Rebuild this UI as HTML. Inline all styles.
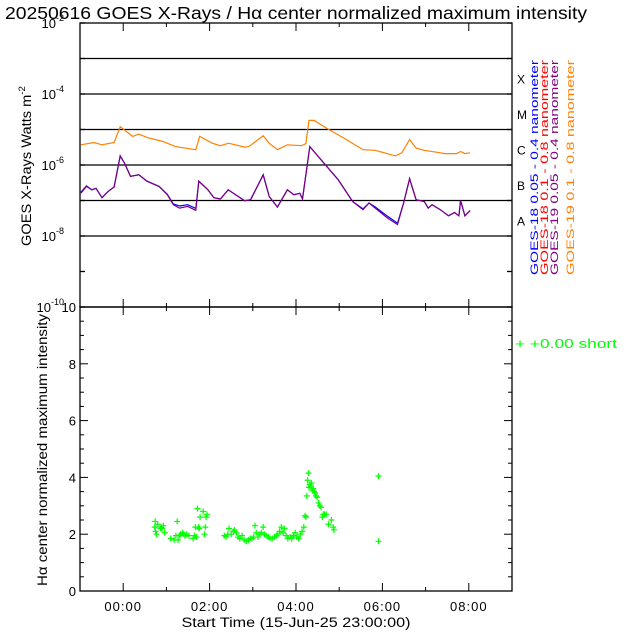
<!DOCTYPE html>
<html><head><meta charset="utf-8">
<style>
html,body{margin:0;padding:0;background:#fff;}
svg{display:block;font-family:"Liberation Sans",sans-serif;}
</style></head>
<body>
<svg id="chart" width="640" height="640" viewBox="0 0 640 640" xmlns="http://www.w3.org/2000/svg">
<text x="5" y="19" font-size="17.5" fill="#000" textLength="582" lengthAdjust="spacingAndGlyphs">20250616 GOES X-Rays / Hα center normalized maximum intensity</text>
<g id="topPanel"></g>
<g id="botPanel"></g>
</svg>
<script>
// ---- data ----
const xTickLabels = ["00:00","02:00","04:00","06:00","08:00"];
const xTickHours = [0,2,4,6,8];
const fluxTickExps = [-2,-4,-6,-8,-10];
const classLabels = ["X","M","C","B","A"];
const haTickLabels = [0,2,4,6,8,10];

const g19LongTimes = [-0.98,-0.68,-0.49,-0.21,-0.07,0.22,0.36,0.55,0.92,1.21,1.68,1.77,2.06,2.25,2.44,2.81,2.91,3.24,3.38,3.57,3.80,4.13,4.23,4.30,4.42,4.70,5.17,5.55,5.83,6.30,6.45,6.63,6.78,6.97,7.25,7.44,7.72,7.81,7.91,8.03];
const g19LongFlux = [3.7e-6,4.3e-6,3.7e-6,4.3e-6,1.2e-5,6.4e-6,7.4e-6,6.0e-6,4.6e-6,3.3e-6,2.7e-6,6.4e-6,4.1e-6,3.5e-6,4.1e-6,3.2e-6,3.3e-6,6.7e-6,4.1e-6,2.7e-6,3.7e-6,3.5e-6,4.0e-6,1.8e-5,1.8e-5,1.1e-5,5.2e-6,2.7e-6,2.6e-6,1.8e-6,2.2e-6,5.2e-6,3.0e-6,2.6e-6,2.3e-6,2.1e-6,2.1e-6,2.4e-6,2.1e-6,2.2e-6];

const shortTimes = [-0.98,-0.85,-0.73,-0.63,-0.49,-0.35,-0.21,-0.07,0.03,0.17,0.36,0.55,0.83,1.02,1.16,1.30,1.49,1.68,1.75,1.96,2.10,2.25,2.43,2.81,2.95,3.24,3.38,3.57,3.80,3.95,4.09,4.15,4.32,4.61,4.98,5.31,5.55,5.69,5.83,6.12,6.35,6.49,6.63,6.78,6.97,7.06,7.15,7.34,7.53,7.67,7.77,7.81,7.91,8.03];
const g18ShortFlux = [1.7e-7,2.6e-7,2.0e-7,2.2e-7,1.2e-7,1.8e-7,2.4e-7,1.8e-6,1.13e-6,4.8e-7,5.3e-7,3.5e-7,2.5e-7,1.5e-7,8.0e-8,7.0e-8,7.6e-8,6.0e-8,3.5e-7,2.0e-7,1.2e-7,1.1e-7,2.0e-7,9.9e-8,1.05e-7,5.3e-7,1.3e-7,6.5e-8,2.0e-7,1.46e-7,1.6e-7,1.1e-7,3.3e-6,1.26e-6,3.8e-7,9.4e-8,5.8e-8,8.5e-8,6.6e-8,3.6e-8,2.3e-8,8.5e-8,4.1e-7,1.05e-7,9.4e-8,6.1e-8,7.6e-8,5.5e-8,3.7e-8,4.6e-8,3.7e-8,1.0e-7,3.7e-8,5.2e-8];
const g19ShortFlux = [1.6e-7,2.5e-7,2.0e-7,2.2e-7,1.2e-7,1.8e-7,2.4e-7,1.8e-6,1.13e-6,4.8e-7,5.3e-7,3.5e-7,2.5e-7,1.46e-7,7.6e-8,6.1e-8,6.8e-8,5.3e-8,3.5e-7,2.0e-7,1.2e-7,1.1e-7,2.0e-7,9.9e-8,1.05e-7,5.3e-7,1.3e-7,6.5e-8,2.0e-7,1.46e-7,1.6e-7,1.1e-7,3.3e-6,1.26e-6,3.8e-7,9.4e-8,5.5e-8,8.5e-8,6.1e-8,3.2e-8,2.1e-8,8.5e-8,4.1e-7,1.05e-7,9.4e-8,6.1e-8,7.6e-8,5.5e-8,3.7e-8,4.6e-8,3.7e-8,1.0e-7,3.7e-8,5.2e-8];

const haTimes = [0.73,0.74,0.75,0.77,0.80,0.86,0.88,0.90,0.93,0.96,1.10,1.18,1.22,1.25,1.27,1.30,1.33,1.37,1.40,1.43,1.47,1.52,1.62,1.65,1.67,1.70,1.72,1.74,1.76,1.78,1.85,1.88,1.90,1.92,1.94,2.34,2.38,2.42,2.45,2.50,2.55,2.58,2.62,2.66,2.70,2.75,2.80,2.85,2.90,2.94,2.98,3.02,3.05,3.08,3.12,3.16,3.20,3.24,3.27,3.31,3.36,3.40,3.45,3.50,3.55,3.58,3.62,3.66,3.70,3.73,3.77,3.81,3.86,3.90,3.94,3.98,4.02,4.06,4.10,4.14,4.18,4.21,4.23,4.25,4.27,4.29,4.30,4.32,4.34,4.36,4.38,4.40,4.42,4.44,4.46,4.49,4.52,4.55,4.58,4.61,4.63,4.66,4.70,4.75,4.82,4.86,4.88,5.91,5.91];
const haValues = [2.25,2.45,2.1,2.0,2.35,2.2,2.25,2.2,2.3,2.05,1.85,1.8,1.95,2.45,1.8,1.95,2.0,2.05,2.0,1.95,2.0,1.95,1.85,1.95,2.25,1.9,2.9,2.25,2.2,2.6,2.8,2.0,2.25,2.6,2.7,1.95,1.9,2.0,2.2,2.0,2.1,2.15,2.05,1.9,1.85,1.95,1.8,1.75,1.8,1.85,1.85,1.9,2.3,2.05,1.9,2.0,2.05,2.25,2.0,1.95,1.9,1.85,1.85,1.9,1.95,2.0,2.1,2.25,2.05,2.2,1.95,1.85,1.9,1.85,1.95,2.05,1.9,1.85,2.0,2.1,2.25,2.65,2.6,3.35,3.9,4.15,3.65,3.75,3.7,3.8,3.55,3.6,3.5,3.45,3.35,3.3,3.1,3.0,2.95,2.6,2.7,2.7,2.7,2.35,2.5,2.25,2.15,4.05,1.75];

// ---- layout ----
const L=80,R=512,T1=23,B1=307,T2=307,B2=591;
const NS="http://www.w3.org/2000/svg";
const xS=h=>L+(h+1)/10*(R-L);
const yLog=f=>T1+(-2-Math.log10(f))/8*(B1-T1);
const yHa=v=>B2-v/10*(B2-T2);
function mk(tag,attrs,parent){const e=document.createElementNS(NS,tag);for(const k in attrs)e.setAttribute(k,attrs[k]);parent.appendChild(e);return e;}
const topG=document.getElementById('topPanel'), botG=document.getElementById('botPanel');

for(let e=-3;e>=-8;e--){
  const ln=mk('line',{x1:L,x2:R,y1:yLog(Math.pow(10,e)),y2:yLog(Math.pow(10,e)),stroke:'#000','stroke-width':1.3},topG);
  
  
}
[[T1,B1,topG],[T2,B2,botG]].forEach(([t,b,p])=>{
  const r=mk('rect',{x:L,y:t,width:R-L,height:b-t,fill:'none',stroke:'#000','stroke-width':1.3},p);
  
  
});
for(let h=-1;h<=9;h++){
  const x=xS(h), major=xTickHours.includes(h), len=major?8:4;
  [[T1,1],[B1,-1],[T2,1],[B2,-1]].forEach(([y,d])=>{
    const tk=mk('line',{x1:x,x2:x,y1:y,y2:y+d*len,stroke:'#000','stroke-width':1},topG);
    
    
  });
}
xTickLabels.forEach((s,i)=>{
  const t=mk('text',{x:xS(xTickHours[i]),y:611,'font-size':13,'text-anchor':'middle','letter-spacing':'1'},botG);
  t.textContent=s;
  
  
});
const xt=mk('text',{x:296,y:627,'font-size':13.5,'text-anchor':'middle',textLength:229,lengthAdjust:'spacingAndGlyphs'},botG);
xt.textContent='Start Time (15-Jun-25 23:00:00)';



for(let e=-2;e>=-10;e--){
  const y=yLog(Math.pow(10,e));
  [[L,1],[R,-1]].forEach(([x,d])=>{
    const tk=mk('line',{x1:x,x2:x+d*5,y1:y,y2:y,stroke:'#000','stroke-width':1.3},topG);
    
    
  });
}
fluxTickExps.forEach(e=>{
  const y=yLog(Math.pow(10,e));
  const t=mk('text',{x:64,y:y+5,'font-size':13,'text-anchor':'end'},topG);
  t.innerHTML='10<tspan dy="-7" font-size="9">'+e+'</tspan>';
  
  
});
const yt=mk('text',{transform:'translate(31,166) rotate(-90)','font-size':13.5,'text-anchor':'middle'},topG);
yt.innerHTML='GOES X-Rays Watts m<tspan dy="-6" font-size="9">-2</tspan>';
yt.setAttribute('textLength','160');
yt.setAttribute('lengthAdjust','spacingAndGlyphs');


classLabels.forEach((c,i)=>{
  const t=mk('text',{x:517,y:yLog(Math.pow(10,-3.5-i))+7,'font-size':12},topG);
  t.textContent=c;
  
  
});
const leg=[['GOES-18 0.05 - 0.4 nanometer','#0000ff',538],['GOES-18 0.1 - 0.8 nanometer','#ff0000',548],['GOES-19 0.05 - 0.4 nanometer','#80007f',558],['GOES-19 0.1 - 0.8 nanometer','#ff8000',574]];
leg.forEach(([s,c,x])=>{
  const t=mk('text',{transform:'translate('+x+',275) rotate(-90)','font-size':11,fill:c,textLength:215,lengthAdjust:'spacingAndGlyphs'},topG);
  t.textContent=s;
  
  
});
function series(times,vals,color,name){
  const d=times.map((t,i)=>(i?'L':'M')+xS(t).toFixed(1)+' '+yLog(vals[i]).toFixed(1)).join('');
  const p=mk('path',{d:d,fill:'none',stroke:color,'stroke-width':1.2},topG);
  
  
}
series(g19LongTimes,g19LongFlux,'#ff8000','goes19-long-line');
series(shortTimes,g18ShortFlux,'#0000ff','goes18-short-line');
series(shortTimes,g19ShortFlux,'#80007f','goes19-short-line');

for(let v=0;v<=10;v+=0.5){
  const y=yHa(v), major=Number.isInteger(v/2), len=major?8:4;
  [[L,1],[R,-1]].forEach(([x,d])=>{
    const tk=mk('line',{x1:x,x2:x+d*len,y1:y,y2:y,stroke:'#000','stroke-width':1},botG);
    
    
  });
}
haTickLabels.forEach(v=>{
  const t=mk('text',{x:76,y:yHa(v)+5,'font-size':13,'text-anchor':'end'},botG);
  t.textContent=v;
  
  
});
const ht=mk('text',{transform:'translate(47,450) rotate(-90)','font-size':13.5,'text-anchor':'middle',textLength:272,lengthAdjust:'spacingAndGlyphs'},botG);
ht.textContent='Hα center normalized maximum intensity';


haTimes.forEach((t,i)=>{
  const x=xS(t), y=yHa(haValues[i]);
  const p=mk('path',{d:'M'+(x-3)+' '+y+'h6M'+x+' '+(y-3)+'v6',stroke:'#00ff00','stroke-width':1.2},botG);
  
  
});
const lg=mk('text',{x:515,y:348,'font-size':13,fill:'#00ff00',textLength:102,lengthAdjust:'spacingAndGlyphs'},botG);
lg.textContent='+  +0.00 short';


</script>
</body></html>
